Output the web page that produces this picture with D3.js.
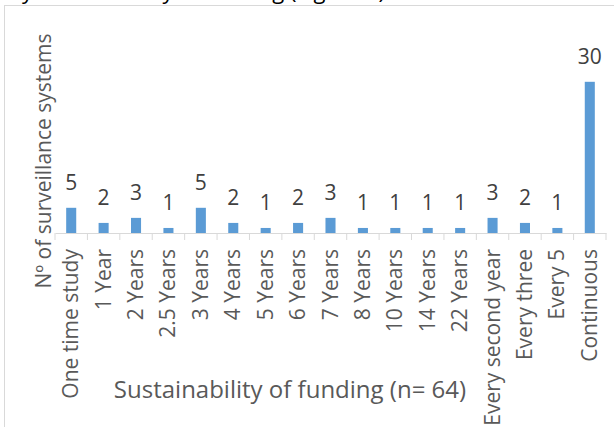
<!DOCTYPE html>
<html><head><meta charset="utf-8">
<script src="https://cdn.jsdelivr.net/npm/d3@7"></script>
<style>body{margin:0;background:#fff;}svg{display:block;}</style>
</head><body>
<svg id="c" width="614" height="427"></svg>
<script>
const categories = ["One time study","1 Year","2 Years","2.5 Years","3 Years","4 Years","5 Years","6 Years","7 Years","8 Years","10 Years","14 Years","22 Years","Every second year","Every three","Every 5","Continuous"];
const values = [5,2,3,1,5,2,1,2,3,1,1,1,1,3,2,1,30];
const xTitle = "Sustainability of funding (n= 64)";
const yTitle = "Nº of surveillance systems";
const caption = "by sustainability of funding (Figure 6)";

const svg = d3.select("#c");
const font = "'Open Sans', sans-serif";

// caption cut off at top (as in the reference)
svg.append("text").attr("x", 385).attr("y", -1).attr("text-anchor","end")
  .attr("font-family", font).attr("font-size", 22).attr("fill","#000").text(caption);

// chart frame
svg.append("rect").attr("x",4.5).attr("y",5.5).attr("width",700).attr("height",500)
  .attr("fill","#fff").attr("stroke","#d9d9d9").attr("stroke-width",1);

const x = d3.scaleBand().domain(categories).range([55,606]).paddingInner(0.69).paddingOuter(0.345);
const y = d3.scaleLinear().domain([0,35]).range([233, 233-35*5.04]);

// bars
svg.append("g").selectAll("rect").data(values).join("rect")
  .attr("x",(d,i)=>x(categories[i])).attr("width",x.bandwidth())
  .attr("y",d=>y(d)).attr("height",d=>y(0)-y(d)).attr("fill","#5b9bd5");

// value labels
svg.append("g").selectAll("text").data(values).join("text")
  .attr("x",(d,i)=>x(categories[i])+x.bandwidth()/2).attr("y",d=>y(d)-18)
  .attr("text-anchor","middle").attr("font-family",font).attr("font-size",21)
  .attr("fill","#404040").text(d=>d);

// x axis
const xAxis = d3.axisBottom(x).tickSizeInner(0).tickSizeOuter(0).tickFormat("");
const ax = svg.append("g").attr("transform","translate(0,233)").call(xAxis);
ax.select(".domain").attr("stroke","#d9d9d9");
const bounds = d3.range(categories.length+1).map(i=>55+i*x.step());
svg.append("g").selectAll("line").data(bounds).join("line")
  .attr("x1",d=>d).attr("x2",d=>d).attr("y1",233).attr("y2",240)
  .attr("stroke","#d9d9d9");

// tick labels
svg.append("g").selectAll("text").data(categories).join("text")
  .attr("transform",d=>`translate(${x(d)+x.bandwidth()/2+7},249) rotate(-90)`)
  .attr("text-anchor","end").attr("font-family",font).attr("font-size",21)
  .attr("fill","#595959").text(d=>d);

// axis titles
svg.append("text").attr("x",290).attr("y",398).attr("text-anchor","middle")
  .attr("font-family",font).attr("font-size",24).attr("fill","#595959").text(xTitle);
svg.append("text").attr("transform","translate(51,161) rotate(-90)").attr("text-anchor","middle")
  .attr("font-family",font).attr("font-size",21).attr("fill","#595959").text(yTitle);
</script>
</body></html>
